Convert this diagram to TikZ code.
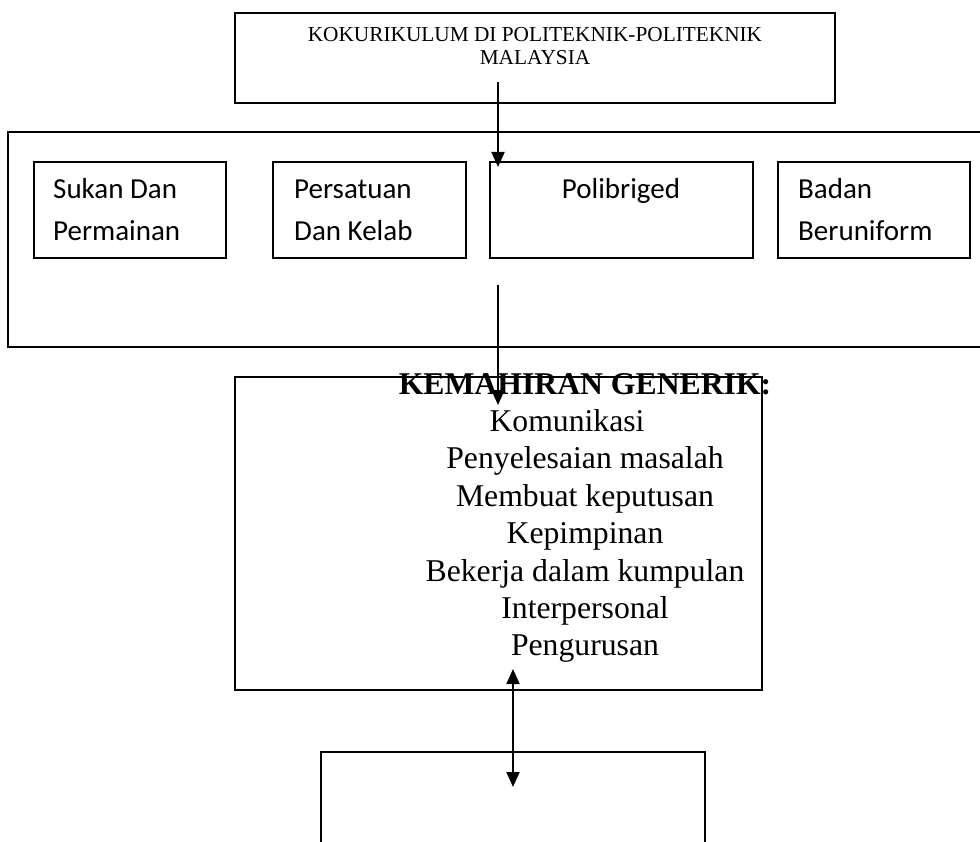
\documentclass[tikz,border=0pt]{standalone}
\usepackage{fontspec}
\setmainfont{Liberation Serif}
\newfontfamily\calfont{Carlito}
\usetikzlibrary{arrows.meta}
\begin{document}
\begin{tikzpicture}[x=1pt,y=-1pt,
  box/.style={draw,line width=2.2pt,inner sep=0pt,anchor=north west},
  frame/.style={line width=2.2pt},
  conn/.style={line width=2pt,-{Triangle[width=13pt,length=15pt]}},
  biconn/.style={line width=2pt,{Triangle[width=13pt,length=15pt]}-{Triangle[width=13pt,length=15pt]}},
  ttl/.style={inner sep=0pt,anchor=base,font=\fontsize{21.3}{24}\selectfont},
  cal/.style={inner sep=0pt,anchor=base west,font=\calfont\fontsize{29}{35}\selectfont},
  gen/.style={inner sep=0pt,anchor=base,font=\fontsize{31.7}{37.4}\selectfont}]
\useasboundingbox (0,0) rectangle (980,842);

% top box
\node[box,minimum width=600pt,minimum height=90pt] (top) at (234,12) {};
\node[ttl] (t1) at (535,42) {KOKURIKULUM DI POLITEKNIK-POLITEKNIK};
\node[ttl] (t2) at (535,65) {MALAYSIA};

% outer frame (open to the right)
\draw[frame] (980,132) -| (8,347) -- (980,347);

% four activity boxes
\node[box,minimum width=192pt,minimum height=96pt] (sukan) at (33,161) {};
\node[box,minimum width=193pt,minimum height=96pt] (persatuan) at (272,161) {};
\node[box,minimum width=263pt,minimum height=96pt] (poli) at (489,161) {};
\node[box,minimum width=192pt,minimum height=96pt] (badan) at (777,161) {};

\node[cal] (s1) at (53,199) {Sukan Dan};
\node[cal] (s2) at (53,241) {Permainan};
\node[cal] (p1) at (294,199) {Persatuan};
\node[cal] (p2) at (294,241) {Dan Kelab};
\node[cal,anchor=base] (pb) at (621,199) {Polibriged};
\node[cal] (b1) at (798,199) {Badan};
\node[cal] (b2) at (798,241) {Beruniform};

% generic skills box
\node[box,minimum width=527pt,minimum height=313pt] (gen) at (234,376) {};
\node[gen,font=\bfseries\fontsize{31.7}{37.4}\selectfont] (g0) at (585,394) {KEMAHIRAN GENERIK:};
\node[gen] (g1) at (567,431.4) {Komunikasi};
\node[gen] (g2) at (585,468.8) {Penyelesaian masalah};
\node[gen] (g3) at (585,506.2) {Membuat keputusan};
\node[gen] (g4) at (585,543.6) {Kepimpinan};
\node[gen] (g5) at (585,581) {Bekerja dalam kumpulan};
\node[gen] (g6) at (585,618.4) {Interpersonal};
\node[gen] (g7) at (585,655.8) {Pengurusan};

% bottom box (open at the bottom)
\draw[frame] (321,842) |- (705,752) -- (705,842);

% connectors
\coordinate (a1s) at (498,82);
\coordinate (a1e) at (498,167);
\coordinate (a2s) at (498,285);
\coordinate (a2e) at (498,405);
\coordinate (a3s) at (513,669);
\coordinate (a3e) at (513,787);
\draw[conn] (a1s) -- (a1e);
\draw[conn] (a2s) -- (a2e);
\draw[biconn] (a3s) -- (a3e);
\end{tikzpicture}
\end{document}
